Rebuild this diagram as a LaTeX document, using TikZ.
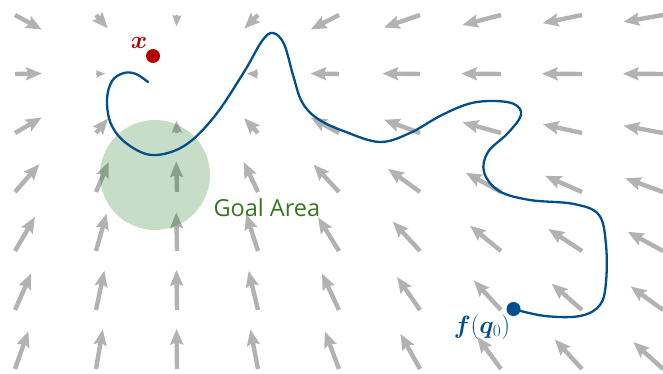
\documentclass[tikz,border=0pt]{standalone}
\usepackage[no-math]{fontspec}
\usepackage{amsmath,bm}
\newfontfamily\labelfont{Open Sans}
\definecolor{trajblue}{RGB}{0,78,140}
\definecolor{targetred}{RGB}{180,0,0}
\definecolor{goalgreen}{RGB}{56,118,29}
\definecolor{goalfill}{RGB}{0,100,0}
\definecolor{fieldgray}{RGB}{178,178,178}
\begin{document}
\begin{tikzpicture}[
  x=1pt,y=-1pt,
  dot/.style={circle, inner sep=0pt, minimum size=14pt},
  traj/.style={line width=2.3pt, trajblue, line cap=round},
  mathlbl/.style={inner sep=0pt, font=\fontsize{27}{32}\selectfont}
]
\clip (0,0) rectangle (663,374);
% vector field pointing to the target
\foreach \i in {0,...,8}{
  \foreach \j in {0,...,6}{
    \pgfmathsetmacro{\px}{15+81*\i}
    \pgfmathsetmacro{\py}{15+59*\j}
    \pgfmathsetmacro{\dx}{(172-\px)/100}
    \pgfmathsetmacro{\dy}{1.5*(\py-72)/100}
    \pgfmathsetmacro{\ang}{atan2(\dy,\dx)}
    \pgfmathsetmacro{\len}{40*(1-exp(-(\dx*\dx+\dy*\dy)/2.25))}
    \pgfmathsetmacro{\s}{min(1,\len/16)}
    \fill[fieldgray, shift={(\px,\py)}, rotate=\ang]
      (0,-2.2*\s) -- (\len-14*\s,-2.2*\s) -- (\len-16*\s,-6.8*\s) -- (\len,0)
      -- (\len-16*\s,6.8*\s) -- (\len-14*\s,2.2*\s) -- (0,2.2*\s) -- cycle;
  }
}
% goal region
\node[circle, minimum size=110pt, inner sep=0pt, fill=goalfill, fill opacity=0.22] (goal) at (155,175) {};
\node[anchor=west, text=goalgreen, font=\labelfont\fontsize{23.5}{28}\selectfont] (goallbl) at (210,208) {Goal Area};
% target and start
\node[dot, fill=targetred] (target) at (153,56) {};
\node[mathlbl, text=targetred] (targetlbl) at (139,43) {$\bm{x}$};
\node[dot, fill=trajblue] (q0) at (513.5,309) {};
\node[mathlbl, text=trajblue] (q0lbl) at (482,327) {$\bm{f}(\bm{q}_0)$};
\coordinate (start) at (148,82);
% trajectory
\draw[traj] plot[smooth, tension=0.6] coordinates {
  (start) (136,74) (124,73) (112,81) (107,100) (111,124) (126,143) (152,155)
  (184,146) (214,117) (244,72) (262,41) (273,33) (284,44) (293,75) (302,102)
  (318,119) (346,132) (380,142) (410,133) (440,116) (468,104) (492,101)
  (514,104) (521,115) (508,133) (488,152) (484,172) (499,191) (530,200)
  (574,204) (599,215) (606,245) (606,282) (600,305) (580,316) (545,316)
  (q0.center)};
\end{tikzpicture}
\end{document}
